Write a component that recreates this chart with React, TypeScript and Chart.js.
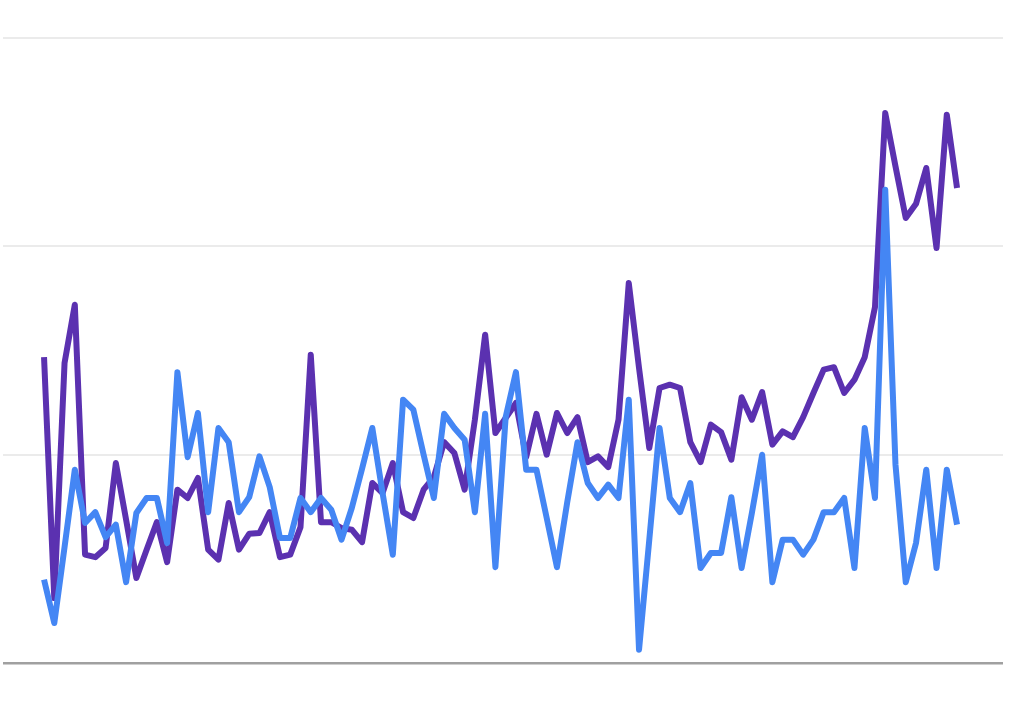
import React, { useEffect, useRef } from "react";
import { Chart, registerables } from "chart.js";

Chart.register(...registerables);

// Daily index (0..89) of each sample
const dayIndex: number[] = [
  0, 1, 2, 3, 4, 5, 6, 7, 8, 9, 10, 11, 12, 13, 14, 15, 16, 17, 18, 19,
  20, 21, 22, 23, 24, 25, 26, 27, 28, 29, 30, 31, 32, 33, 34, 35, 36, 37, 38, 39,
  40, 41, 42, 43, 44, 45, 46, 47, 48, 49, 50, 51, 52, 53, 54, 55, 56, 57, 58, 59,
  60, 61, 62, 63, 64, 65, 66, 67, 68, 69, 70, 71, 72, 73, 74, 75, 76, 77, 78, 79,
  80, 81, 82, 83, 84, 85, 86, 87, 88, 89,
];

const purpleSeries: number[] = [
  36.7, 7.8, 36, 43, 13, 12.7, 13.8, 24, 17.2, 10.2,
  13.6, 16.9, 12.1, 20.8, 19.8, 22.2, 13.6, 12.4, 19.2, 13.6,
  15.5, 15.6, 18.1, 12.7, 13, 16.3, 37, 16.9, 16.9, 16.2,
  16, 14.5, 21.6, 20.4, 24, 18.1, 17.4, 20.8, 22.3, 26.5,
  25.2, 20.8, 29.2, 39.4, 27.6, 29.4, 31.2, 24.7, 29.9, 25,
  30, 27.6, 29.5, 24.1, 24.8, 23.5, 29.2, 45.6, 35.4, 25.8,
  33, 33.4, 33, 26.5, 24.1, 28.6, 27.7, 24.4, 31.9, 29.2,
  32.5, 26.2, 27.8, 27.1, 29.5, 32.4, 35.2, 35.5, 32.4, 34,
  36.7, 42.7, 66, 59.6, 53.4, 55.1, 59.4, 49.8, 65.8, 57,
];

const blueSeries: number[] = [
  10, 4.8, 13.9, 23.2, 16.8, 18.1, 15.1, 16.6, 9.7, 18,
  19.8, 19.8, 14.4, 34.9, 24.7, 30, 18.1, 28.2, 26.5, 18.1,
  19.9, 24.8, 21.1, 15, 15, 19.8, 18.1, 19.8, 18.4, 14.8,
  18.6, 23.3, 28.2, 20.4, 13, 31.6, 30.4, 25, 19.8, 29.9,
  28.2, 26.8, 18.1, 29.9, 11.5, 29.5, 34.9, 23.2, 23.2, 17.4,
  11.5, 19.3, 26.5, 21.6, 19.8, 21.4, 19.8, 31.6, 1.6, 14.8,
  28.2, 19.8, 18.1, 21.6, 11.4, 13.2, 13.2, 19.9, 11.4, 18,
  25, 9.7, 14.8, 14.8, 13, 14.8, 18.1, 18.1, 19.8, 11.4,
  28.2, 19.8, 56.8, 23.8, 9.7, 14.4, 23.2, 11.4, 23.2, 16.6,
];

const yTicks: number[] = [0, 25, 50, 75];

export default function App() {
  const canvasRef = useRef<HTMLCanvasElement | null>(null);

  useEffect(() => {
    if (!canvasRef.current) return;
    const toPoints = (arr: number[]) => arr.map((v, i) => ({ x: dayIndex[i], y: v }));
    const chart = new Chart(canvasRef.current, {
      type: "line",
      data: {
        datasets: [
          {
            label: "Blue",
            data: toPoints(blueSeries),
            borderColor: "#4486f4",
            borderWidth: 6,
            pointRadius: 0,
            tension: 0,
            borderJoinStyle: "round",
            borderCapStyle: "butt",
            fill: false,
          },
          {
            label: "Purple",
            data: toPoints(purpleSeries),
            borderColor: "#5b31b0",
            borderWidth: 6,
            pointRadius: 0,
            tension: 0,
            borderJoinStyle: "round",
            borderCapStyle: "butt",
            fill: false,
          },
        ],
      },
      options: {
        animation: false,
        responsive: true,
        maintainAspectRatio: false,
        layout: { padding: { left: 3, right: 21, top: 38, bottom: 42 } },
        plugins: { legend: { display: false }, tooltip: { enabled: false } },
        scales: {
          x: {
            type: "linear",
            display: false,
            min: -4.0,
            max: 93.48,
          },
          y: {
            type: "linear",
            min: yTicks[0],
            max: yTicks[yTicks.length - 1],
            afterBuildTicks: (axis: any) => {
              axis.ticks = yTicks.map((v) => ({ value: v }));
            },
            afterFit: (axis: any) => {
              axis.width = 0;
            },
            ticks: { display: false },
            border: { display: false },
            grid: {
              drawTicks: false,
              color: (ctx: any) => (ctx.tick && ctx.tick.value === 0 ? "#a0a0a0" : "#ebebeb"),
              lineWidth: (ctx: any) => (ctx.tick && ctx.tick.value === 0 ? 2.5 : 2),
            },
          },
        },
      },
    });
    return () => chart.destroy();
  }, []);

  return (
    <div style={{ position: "fixed", left: 0, top: 0, width: 1024, height: 705, background: "#ffffff" }}>
      <canvas ref={canvasRef} />
    </div>
  );
}
